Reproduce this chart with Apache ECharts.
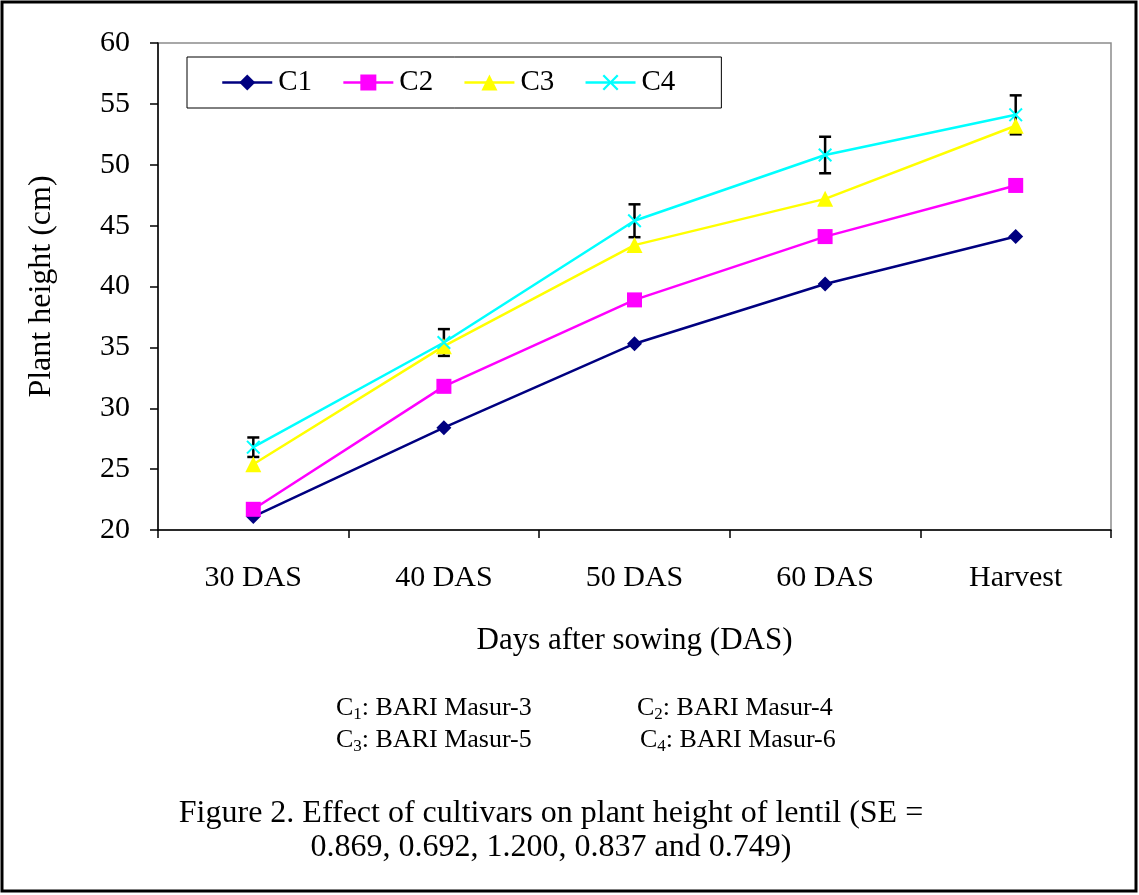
<!DOCTYPE html>
<html>
<head>
<meta charset="utf-8">
<script src="https://cdn.jsdelivr.net/npm/echarts@6/dist/echarts.min.js"></script>
<style>
  html, body { margin: 0; padding: 0; background: #fff; }
  #chart { width: 1139px; height: 895px; }
</style>
</head>
<body>
<div id="chart"></div>
<script>
// Growth stages (days after sowing)
const categories = ['30 DAS', '40 DAS', '50 DAS', '60 DAS', 'Harvest'];

// Plant height (cm) for each cultivar
const c1 = [21.1, 28.4, 35.3, 40.2, 44.1];
const c2 = [21.7, 31.8, 38.9, 44.1, 48.3];
const c3 = [25.4, 35.1, 43.4, 47.2, 53.2];
const c4 = [26.8, 35.4, 45.4, 50.8, 54.1];

// Half-length of the error bar drawn on C4 at each stage
const errorHalf = [0.8, 1.1, 1.35, 1.5, 1.6];

const seriesNames = ['C1', 'C2', 'C3', 'C4'];
const seriesColors = ['#000080', '#FF00FF', '#FFFF00', '#00FFFF'];

const yTicks = { min: 20, max: 60, interval: 5 };

const serif = '"Liberation Serif", "Times New Roman", serif';
const crossPath = 'path://M0,1 L1,0 L5,4 L9,0 L10,1 L6,5 L10,9 L9,10 L5,6 L1,10 L0,9 L4,5 Z';

const chart = echarts.init(document.getElementById('chart'), null, { renderer: 'canvas' });

function lineSeries(name, data, color, symbol, size) {
  return {
    name: name,
    type: 'line',
    data: data,
    symbol: symbol,
    symbolSize: size,
    showAllSymbol: true,
    itemStyle: { color: color },
    lineStyle: { color: color, width: 2.5 },
    emphasis: { disabled: true },
    z: 3
  };
}

const errorData = c4.map((v, i) => [i, v - errorHalf[i], v + errorHalf[i]]);

// Cultivar key lines beneath the axis title
function keyText(left, top, idx, label) {
  return {
    type: 'text', left: left, top: top,
    style: {
      text: 'C{sub|' + idx + '}: ' + label,
      fontFamily: serif, fontSize: 26, fill: '#000',
      rich: { sub: { fontFamily: serif, fontSize: 17, padding: [13, 0, 0, 0] } }
    }
  };
}

chart.setOption({
  animation: false,
  backgroundColor: '#ffffff',
  textStyle: { fontFamily: serif, color: '#000' },
  grid: {
    left: 158, top: 43, right: 28, bottom: 365,
    show: true, borderColor: '#8c8c8c', borderWidth: 1.5, backgroundColor: 'transparent'
  },
  legend: {
    data: seriesNames,
    left: 187, top: 57,
    orient: 'horizontal',
    itemWidth: 50, itemHeight: 20, itemGap: 30,
    padding: [11, 46, 11, 34],
    borderColor: '#000', borderWidth: 1,
    lineStyle: { width: 2.5 },
    textStyle: { fontFamily: serif, fontSize: 29, color: '#000', padding: [0, 0, 0, 1] }
  },
  xAxis: {
    type: 'category',
    data: categories,
    boundaryGap: true,
    axisLine: { lineStyle: { color: '#000', width: 1.5 } },
    axisTick: { show: true, inside: false, length: 8, alignWithLabel: false, lineStyle: { color: '#000', width: 1.5 } },
    axisLabel: { fontFamily: serif, fontSize: 30, color: '#000', margin: 33 },
    splitLine: { show: false },
    name: 'Days after sowing (DAS)',
    nameLocation: 'middle',
    nameGap: 95,
    nameTextStyle: { fontFamily: serif, fontSize: 31, color: '#000', verticalAlign: 'top' }
  },
  yAxis: {
    type: 'value',
    min: yTicks.min, max: yTicks.max, interval: yTicks.interval,
    axisLine: { show: true, lineStyle: { color: '#000', width: 1.5 } },
    axisTick: { show: true, inside: false, length: 8, lineStyle: { color: '#000', width: 1.5 } },
    axisLabel: { fontFamily: serif, fontSize: 30, color: '#000', margin: 28 },
    splitLine: { show: false },
    name: 'Plant height (cm)',
    nameLocation: 'middle',
    nameGap: 100,
    nameRotate: 90,
    nameTextStyle: { fontFamily: serif, fontSize: 32, color: '#000' }
  },
  series: [
    lineSeries('C1', c1, seriesColors[0], 'diamond', 15),
    lineSeries('C2', c2, seriesColors[1], 'rect', 15),
    lineSeries('C3', c3, seriesColors[2], 'triangle', 16),
    lineSeries('C4', c4, seriesColors[3], crossPath, 14),
    {
      name: 'error',
      type: 'custom',
      data: errorData,
      z: 2,
      silent: true,
      encode: { x: 0, y: [1, 2] },
      renderItem: function (params, api) {
        const x = api.value(0);
        const lo = api.coord([x, api.value(1)]);
        const hi = api.coord([x, api.value(2)]);
        const cap = 6;
        const style = { stroke: '#000', lineWidth: 2.5 };
        return {
          type: 'group',
          children: [
            { type: 'line', shape: { x1: lo[0], y1: lo[1], x2: hi[0], y2: hi[1] }, style: style },
            { type: 'line', shape: { x1: lo[0] - cap, y1: lo[1], x2: lo[0] + cap, y2: lo[1] }, style: style },
            { type: 'line', shape: { x1: hi[0] - cap, y1: hi[1], x2: hi[0] + cap, y2: hi[1] }, style: style }
          ]
        };
      }
    }
  ],
  graphic: [
    {
      type: 'rect',
      shape: { x: 2, y: 2, width: 1134, height: 889 },
      style: { fill: 'none', stroke: '#000', lineWidth: 3 },
      silent: true
    },
    keyText(336, 695, 1, 'BARI Masur-3'),
    keyText(637, 695, 2, 'BARI Masur-4'),
    keyText(336, 727, 3, 'BARI Masur-5'),
    keyText(640, 727, 4, 'BARI Masur-6'),
    {
      type: 'text', x: 551, y: 797,
      style: {
        text: 'Figure 2. Effect of cultivars on plant height of lentil (SE =\n0.869, 0.692, 1.200, 0.837 and 0.749)',
        fontFamily: serif, fontSize: 32, fill: '#000',
        align: 'center', verticalAlign: 'top', lineHeight: 34
      }
    }
  ]
});
</script>
</body>
</html>
